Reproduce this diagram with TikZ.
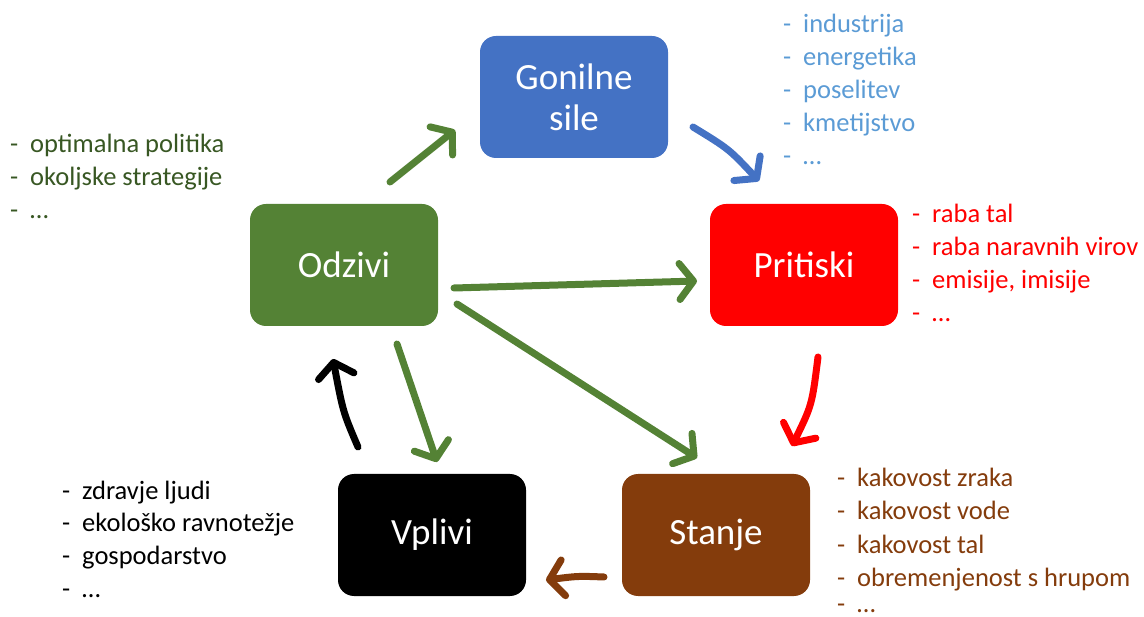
\documentclass[tikz,border=0pt]{standalone}
\usepackage{fontspec}
\setmainfont{Carlito}
\usetikzlibrary{arrows.meta}
\definecolor{cblue}{HTML}{4472C4}
\definecolor{cred}{HTML}{FF0000}
\definecolor{cgreen}{HTML}{548235}
\definecolor{cbrown}{HTML}{843C0C}
\definecolor{tblue}{HTML}{5B9BD5}
\definecolor{tgreen}{HTML}{385723}
\newcommand\li[1]{\makebox[20pt][l]{-}#1}
\begin{document}
\begin{tikzpicture}[x=1pt,y=-1pt,
  box/.style={draw=none, rounded corners=16pt, minimum width=188pt, minimum height=122pt,
    text=white, font=\fontsize{37}{41}\selectfont, align=center, inner sep=0pt},
  arr/.style={line width=7pt, line cap=round,
    -{Straight Barb[length=14pt,width=36pt,round]}},
  item/.style={anchor=base west, inner sep=0pt, font=\fontsize{26.5}{33}\selectfont}]
\useasboundingbox (0,0) rectangle (1144,617);

% boxes
\node[box, fill=cblue] (gon) at (574,97) {Gonilne\\sile};
\node[box, fill=cred] (pri) at (804,265) {Pritiski};
\node[box, fill=cgreen] (odz) at (344,265) {Odzivi};
\node[box, fill=cbrown] (sta) at (716,535) {Stanje};
\node[box, fill=black] (vpl) at (432,535) {Vplivi};

% arrow end points
\coordinate (a1s) at (390,182); \coordinate (a1e) at (455,130);
\coordinate (a2s) at (693,127); \coordinate (a2e) at (759,181);
\coordinate (a3s) at (454,288); \coordinate (a3e) at (697,281);
\coordinate (a4s) at (457,304); \coordinate (a4e) at (697,458);
\coordinate (a5s) at (397,344); \coordinate (a5e) at (437,462);
\coordinate (a6s) at (358,447); \coordinate (a6e) at (333,359);
\coordinate (a7s) at (818,357); \coordinate (a7e) at (792,446);
\coordinate (a8s) at (604,577); \coordinate (a8e) at (546,580);

\draw[arr, cgreen] (a1s) -- (a1e);
\draw[arr, cblue] (a2s) .. controls (729,149) .. (a2e);
\draw[arr, cgreen] (a3s) -- (a3e);
\draw[arr, cgreen] (a4s) -- (a4e);
\draw[arr, cgreen] (a5s) -- (a5e);
\draw[arr, black] (a6s) .. controls (343,412) .. (a6e);
\draw[arr, cred] (a7s) .. controls (812,405) .. (a7e);
\draw[arr, cbrown] (a8s) .. controls (578,576) .. (a8e);

% lists
\node[item, text=tblue] (g1) at (783,33) {\li{industrija}};
\node[item, text=tblue] (g2) at (783,66) {\li{energetika}};
\node[item, text=tblue] (g3) at (783,99) {\li{poselitev}};
\node[item, text=tblue] (g4) at (783,132) {\li{kmetijstvo}};
\node[item, text=tblue] (g5) at (783,165) {\li{…}};

\node[item, text=tgreen] (o1) at (10,153) {\li{optimalna politika}};
\node[item, text=tgreen] (o2) at (10,186) {\li{okoljske strategije}};
\node[item, text=tgreen] (o3) at (10,219) {\li{…}};

\node[item, text=cred] (p1) at (912,223) {\li{raba tal}};
\node[item, text=cred] (p2) at (912,256) {\li{raba naravnih virov}};
\node[item, text=cred] (p3) at (912,289) {\li{emisije, imisije}};
\node[item, text=cred] (p4) at (912,322) {\li{…}};

\node[item, text=cbrown] (s1) at (837,487) {\li{kakovost zraka}};
\node[item, text=cbrown] (s2) at (837,520) {\li{kakovost vode}};
\node[item, text=cbrown] (s3) at (837,553) {\li{kakovost tal}};
\node[item, text=cbrown] (s4) at (837,586) {\li{obremenjenost s hrupom}};
\node[item, text=cbrown] (s5) at (837,612) {\li{…}};

\node[item, text=black] (v1) at (62,500) {\li{zdravje ljudi}};
\node[item, text=black] (v2) at (62,532) {\li{ekološko ravnotežje}};
\node[item, text=black] (v3) at (62,565) {\li{gospodarstvo}};
\node[item, text=black] (v4) at (62,597) {\li{…}};
\end{tikzpicture}
\end{document}
